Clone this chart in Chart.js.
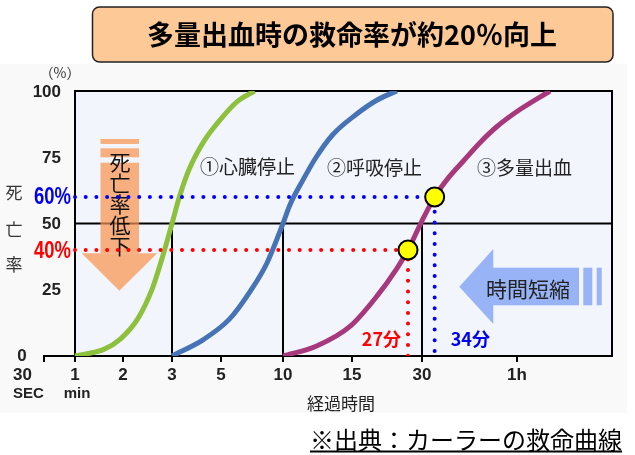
<!DOCTYPE html>
<html lang="ja">
<head>
<meta charset="utf-8">
<title>カーラーの救命曲線</title>
<script src="https://cdn.jsdelivr.net/npm/chart.js@4.4.1/dist/chart.umd.min.js"></script>
<style>
  html, body { margin: 0; padding: 0; background: #fff; }
  #wrap { position: relative; width: 635px; height: 455px; }
</style>
</head>
<body>
<div id="wrap"><canvas id="myChart" width="635" height="455"></canvas></div>
<script>
// elapsed time ticks (minutes) and their labels
const tickMinutes = [0.5, 1, 2, 3, 5, 10, 15, 30, 60];
const tickLabels = [['30', 'SEC'], ['1', 'min'], ['2'], ['3'], ['5'], ['10'], ['15'], ['30'], ['1h']];
const yTicks = [0, 25, 50, 75, 100];

// death rate (%) against elapsed time (minutes)
const cardiacMin = [1, 1.6, 1.95, 2.3, 2.6, 2.8, 3, 3.3, 3.7, 4.3, 5, 6.3, 7.7];
const cardiacPct = [0, 2.5, 6.5, 14, 25.5, 37, 50, 60, 70.5, 81, 89.5, 96, 100];
const respMin = [3, 4.3, 5.7, 7.3, 8.7, 10, 10.5, 11.4, 12.4, 13.6, 16, 20.3, 24.6];
const respPct = [0, 6.3, 14, 24, 35, 50, 57, 66, 75, 83.5, 91.3, 96.5, 100];
const bleedMin = [10, 12.4, 14.9, 20.3, 24.6, 27, 30, 34, 38.5, 43, 48.3, 53.6, 60.9, 70.4];
const bleedPct = [0, 3.7, 11.4, 22.5, 33, 40, 51, 60, 67.5, 73.5, 80.5, 86.5, 93, 100];

// the two points on the bleeding curve (minutes, %)
const markMin = [27, 34];
const markPct = [40, 60];

// the time axis is not to scale: each tick sits at its own distance along it
const tickSpacing = [0, 31, 79, 128, 177, 239, 308, 378, 473];
const axisEnd = 568;

function toAxis(m) {
    const n = tickMinutes.length;
    let i = 1;
    while (i < n - 1 && m > tickMinutes[i]) i++;
    const m0 = tickMinutes[i - 1], m1 = tickMinutes[i];
    const u0 = tickSpacing[i - 1], u1 = tickSpacing[i];
    return u0 + (m - m0) * (u1 - u0) / (m1 - m0);
}

function pts(xs, ys) {
    return xs.map((m, i) => ({ x: toAxis(m), y: ys[i] }));
}

const JP = '"Noto Sans CJK JP", "Noto Sans CJK SC", sans-serif';
const NUM = '"Liberation Sans", Arial, sans-serif';
const NARROW = '"Liberation Sans Narrow", "Liberation Sans", Arial, sans-serif';

function curve(label, xs, ys, color) {
    return {
        label: label,
        data: pts(xs, ys),
        borderColor: color,
        borderWidth: 5,
        pointRadius: 0,
        fill: false,
        cubicInterpolationMode: 'monotone',
        order: 2
    };
}

function guide(m, v, color) {
    return {
        data: [{ x: toAxis(1), y: v }, { x: toAxis(m), y: v }, { x: toAxis(m), y: 0 }],
        borderColor: color,
        borderWidth: 4,
        borderDash: [0, 10.7],
        borderCapStyle: 'round',
        pointRadius: 0,
        tension: 0,
        fill: false,
        order: 1
    };
}

const decor = {
    id: 'decor',
    beforeDraw(chart) {
        const ctx = chart.ctx;
        const area = chart.chartArea;
        const x = chart.scales.x, y = chart.scales.y;
        const px = m => x.getPixelForValue(toAxis(m));
        const py = v => y.getPixelForValue(v);

        ctx.save();
        ctx.fillStyle = '#fff';
        ctx.fillRect(0, 0, chart.width, chart.height);
        ctx.fillStyle = '#f9f9f9';
        ctx.fillRect(0, 64, 627, 349);

        // title box
        ctx.beginPath();
        ctx.roundRect(92.5, 7, 520.5, 55, 7);
        ctx.fillStyle = '#fdca97';
        ctx.fill();
        ctx.lineWidth = 1.5;
        ctx.strokeStyle = '#222';
        ctx.stroke();
        ctx.fillStyle = '#000';
        ctx.font = 'bold 27px ' + JP;
        ctx.textAlign = 'center';
        ctx.textBaseline = 'middle';
        ctx.fillText('多量出血時の救命率が約20％向上', 352, 35);

        // plot panel
        const left = px(1);
        ctx.fillStyle = '#f2f6fc';
        ctx.fillRect(left, area.top, area.right - left, area.bottom - area.top);
        ctx.strokeStyle = '#000';
        ctx.lineWidth = 2;
        ctx.strokeRect(left, area.top, area.right - left, area.bottom - area.top);
        ctx.beginPath();
        ctx.moveTo(left, py(50));
        ctx.lineTo(area.right, py(50));
        [3, 10, 30].forEach(m => {
            ctx.moveTo(px(m), py(50));
            ctx.lineTo(px(m), area.bottom);
        });
        ctx.stroke();
        ctx.restore();
    },
    beforeDatasetsDraw(chart) {
        const ctx = chart.ctx;
        ctx.save();

        // 死亡率低下 arrow
        ctx.fillStyle = 'rgba(251,146,75,0.7)';
        ctx.fillRect(100.5, 139, 38.5, 5);
        ctx.fillRect(100.5, 148.3, 38.5, 9);
        ctx.fillRect(100.5, 162.7, 38.5, 90.6);
        ctx.beginPath();
        ctx.moveTo(81.7, 253.3);
        ctx.lineTo(157.3, 253.3);
        ctx.lineTo(119.3, 290.7);
        ctx.closePath();
        ctx.fill();
        ctx.fillStyle = '#111';
        ctx.font = '21px ' + JP;
        ctx.textAlign = 'center';
        ctx.textBaseline = 'middle';
        ['死', '亡', '率', '低', '下'].forEach((c, i) => ctx.fillText(c, 120, 162 + i * 21));

        // 時間短縮 arrow
        ctx.fillStyle = '#98b4f6';
        ctx.beginPath();
        ctx.moveTo(459.3, 286.7);
        ctx.lineTo(493.3, 249);
        ctx.lineTo(493.3, 324);
        ctx.closePath();
        ctx.fill();
        ctx.fillRect(493, 267.7, 86, 37.6);
        ctx.fillRect(583.3, 267.7, 9, 37.6);
        ctx.fillRect(596.7, 267.7, 5, 37.6);
        ctx.fillStyle = '#222';
        ctx.font = '21px ' + JP;
        ctx.fillText('時間短縮', 528, 289);
        ctx.restore();
    },
    afterDraw(chart) {
        const ctx = chart.ctx;
        const area = chart.chartArea;
        const x = chart.scales.x, y = chart.scales.y;
        const px = m => x.getPixelForValue(toAxis(m));
        const py = v => y.getPixelForValue(v);

        ctx.save();
        ctx.textBaseline = 'middle';

        // y ticks
        ctx.fillStyle = '#222';
        ctx.font = 'bold 17px ' + NUM;
        yTicks.forEach(v => {
            if (v === 0) {
                ctx.textAlign = 'center';
                ctx.fillText(String(v), 22, py(v));
            } else {
                ctx.textAlign = 'right';
                ctx.fillText(String(v), 61, py(v) + 1);
            }
        });

        // x ticks
        tickLabels.forEach((lines, i) => {
            let tx = px(tickMinutes[i]);
            ctx.textAlign = 'center';
            if (i === 0) {
                ctx.textAlign = 'left';
                tx = area.left - 31;
            }
            ctx.font = 'bold 17px ' + NUM;
            ctx.fillText(lines[0], tx, area.bottom + 19);
            if (lines[1]) {
                ctx.font = 'bold 15px ' + NUM;
                ctx.fillText(lines[1], i === 0 ? tx : tx + 2, area.bottom + 38);
            }
        });

        // axis titles
        ctx.fillStyle = '#333';
        ctx.font = '14px ' + JP;
        ctx.textAlign = 'center';
        ctx.fillText('（%）', 60, 73);
        ctx.font = '17px ' + JP;
        ctx.fillText('死', 14, 193);
        ctx.fillText('亡', 14, 230);
        ctx.fillText('率', 14, 265);
        ctx.fillStyle = '#222';
        ctx.fillText('経過時間', 341, 404);

        // curve names
        ctx.font = '19px ' + JP;
        ctx.textAlign = 'left';
        ctx.fillText('①心臓停止', 200, 167);
        ctx.fillText('②呼吸停止', 327, 168);
        ctx.fillText('③多量出血', 477, 168);

        // guide values
        ctx.font = 'bold 23px ' + NARROW;
        ctx.textAlign = 'right';
        ctx.fillStyle = '#0000f0';
        ctx.fillText(markPct[1] + '%', px(1) - 4, py(markPct[1]) + 1, 37);
        ctx.fillStyle = '#ff0000';
        ctx.fillText(markPct[0] + '%', px(1) - 4, py(markPct[0]) + 2, 37);

        ctx.font = 'bold 18px ' + JP;
        ctx.fillStyle = '#ff0000';
        ctx.fillText(markMin[0] + '分', px(markMin[0]) - 7, area.bottom - 17);
        ctx.textAlign = 'left';
        ctx.fillStyle = '#0000f0';
        ctx.fillText(markMin[1] + '分', px(markMin[1]) + 16, area.bottom - 17);

        // source note
        ctx.fillStyle = '#000';
        ctx.font = '24px ' + JP;
        ctx.textAlign = 'right';
        const note = '※出典：カーラーの救命曲線';
        ctx.fillText(note, 622, 440);
        const w = ctx.measureText(note).width;
        ctx.fillRect(622 - w, 450.5, w, 2);
        ctx.restore();
    }
};

const data = {
    datasets: [
        {
            data: pts(markMin, markPct),
            showLine: false,
            pointRadius: 9.5,
            pointBackgroundColor: '#ffff00',
            pointBorderColor: '#000',
            pointBorderWidth: 2,
            order: 0
        },
        guide(markMin[1], markPct[1], '#0000ff'),
        guide(markMin[0], markPct[0], '#ff0000'),
        curve('①心臓停止', cardiacMin, cardiacPct, '#8dc03c'),
        curve('②呼吸停止', respMin, respPct, '#4673b6'),
        curve('③多量出血', bleedMin, bleedPct, '#a8387c')
    ]
};

const config = {
    type: 'line',
    data,
    options: {
        responsive: false,
        animation: false,
        events: [],
        layout: { padding: { left: 44, right: 23, top: 91, bottom: 0 } },
        plugins: { legend: { display: false }, tooltip: { enabled: false } },
        scales: {
            x: {
                type: 'linear',
                min: 0,
                max: axisEnd,
                afterBuildTicks: scale => {
                    scale.ticks = tickMinutes.map(m => ({ value: toAxis(m) }));
                },
                afterFit: scale => { scale.height = 99; },
                ticks: { display: false },
                grid: { drawOnChartArea: false, drawTicks: true, tickLength: 6, color: '#000', lineWidth: 2 },
                border: { color: '#000', width: 2 }
            },
            y: {
                display: false,
                min: 0,
                max: 100
            }
        }
    },
    plugins: [decor]
};

const myChart = new Chart(document.getElementById('myChart'), config);
</script>
</body>
</html>
